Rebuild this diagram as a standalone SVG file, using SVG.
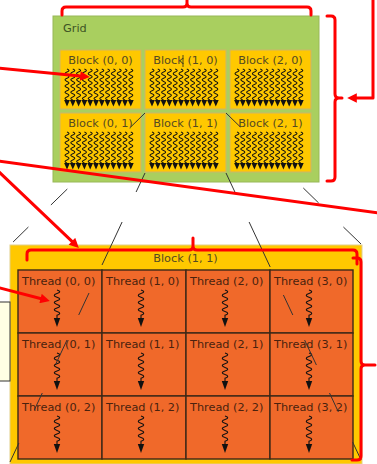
<svg xmlns="http://www.w3.org/2000/svg" xmlns:xlink="http://www.w3.org/1999/xlink" width="377" height="464" viewBox="0 0 377 464">
<style>
  .grid{fill:#a9cf5f;stroke:#98b858;stroke-width:1}
  .blk{fill:#ffc800;stroke:#cdb56a;stroke-width:1}
  .det{fill:#ffc800;stroke:#e2cf8a;stroke-width:1}
  .cell{fill:#f0692a;stroke:#3c2818;stroke-width:1.4}
  .t{font-family:"DejaVu Sans",sans-serif;font-size:11.3px}
  .bl{fill:#554a22}
  .th{fill:#4a220e}
  .gl{fill:#3d5424}
  .sq{fill:none;stroke:#111;stroke-width:1.1}
  .ah{fill:#111}
  .dl{stroke:#333;stroke-width:1;fill:none}
  .red{stroke:#ff0000;stroke-width:3;fill:none;stroke-linecap:round;stroke-linejoin:round}
</style>
<defs>
  <marker id="rarrow" viewBox="0 0 10 10" refX="5" refY="5" markerWidth="3.4" markerHeight="3.2" orient="auto" markerUnits="strokeWidth">
    <path d="M0,0 L10,5 L0,10 z" fill="#ff0000"/>
  </marker>
  <g id="bsq">
    <path class="sq" d="M0,0 q4,1.55 0,3.1 t0,3.1 t0,3.1 t0,3.1 t0,3.1 t0,3.1 t0,3.1 t0,3.1 t0,3.1 t0,3.1"/>
    <path class="ah" d="M-2.9,31 L2.9,31 L0,37.5 z"/>
  </g>
  <g id="bt">
    <use xlink:href="#bsq" x="7" y="19"/>
    <use xlink:href="#bsq" x="12.8" y="19"/>
    <use xlink:href="#bsq" x="18.6" y="19"/>
    <use xlink:href="#bsq" x="24.4" y="19"/>
    <use xlink:href="#bsq" x="30.2" y="19"/>
    <use xlink:href="#bsq" x="36" y="19"/>
    <use xlink:href="#bsq" x="41.8" y="19"/>
    <use xlink:href="#bsq" x="47.6" y="19"/>
    <use xlink:href="#bsq" x="53.4" y="19"/>
    <use xlink:href="#bsq" x="59.2" y="19"/>
    <use xlink:href="#bsq" x="65" y="19"/>
    <use xlink:href="#bsq" x="70.8" y="19"/>
  </g>
  <g id="tsq">
    <path class="sq" d="M39,20 q5.5,1.8 0,3.6 t0,3.6 t0,3.6 t0,3.6 t0,3.6 t0,3.6 t0,3.6 l0,3"/>
    <path class="ah" d="M35.8,48 L42.2,48 L39,57 z"/>
  </g>
</defs>

<rect width="377" height="464" fill="#ffffff"/>

<g id="grid">
  <rect class="grid" x="53" y="16" width="266" height="166"/>
  <text class="t gl" x="63" y="32">Grid</text>
</g>
<g id="block-0-0">
  <rect class="blk" x="60" y="50" width="81" height="59"/>
  <text class="t bl" x="100.5" y="64" text-anchor="middle">Block (0, 0)</text>
  <use xlink:href="#bt" x="60" y="50"/>
</g>
<g id="block-1-0">
  <rect class="blk" x="145" y="50" width="81" height="59"/>
  <text class="t bl" x="185.5" y="64" text-anchor="middle">Block (1, 0)</text>
  <line x1="183" y1="55" x2="183" y2="67" stroke="#222" stroke-width="0.8"/>
  <use xlink:href="#bt" x="145" y="50"/>
</g>
<g id="block-2-0">
  <rect class="blk" x="230" y="50" width="81" height="59"/>
  <text class="t bl" x="270.5" y="64" text-anchor="middle">Block (2, 0)</text>
  <use xlink:href="#bt" x="230" y="50"/>
</g>
<g id="block-0-1">
  <rect class="blk" x="60" y="113" width="81" height="59"/>
  <text class="t bl" x="100.5" y="127" text-anchor="middle">Block (0, 1)</text>
  <use xlink:href="#bt" x="60" y="113"/>
</g>
<g id="block-1-1">
  <rect class="blk" x="145" y="113" width="81" height="59"/>
  <text class="t bl" x="185.5" y="127" text-anchor="middle">Block (1, 1)</text>
  <use xlink:href="#bt" x="145" y="113"/>
</g>
<g id="block-2-1">
  <rect class="blk" x="230" y="113" width="81" height="59"/>
  <text class="t bl" x="270.5" y="127" text-anchor="middle">Block (2, 1)</text>
  <use xlink:href="#bt" x="230" y="113"/>
</g>

<g id="block-detail">
  <rect class="det" x="10" y="245" width="352" height="219"/>
  <text class="t bl" x="185.5" y="262" text-anchor="middle">Block (1, 1)</text>
</g>

<g id="thread-0-0"><rect class="cell" x="18" y="270" width="84" height="63"/><text class="t th" x="22" y="285">Thread (0, 0)</text><use xlink:href="#tsq" x="18" y="270"/></g>
<g id="thread-1-0"><rect class="cell" x="102" y="270" width="84" height="63"/><text class="t th" x="106" y="285">Thread (1, 0)</text><use xlink:href="#tsq" x="102" y="270"/></g>
<g id="thread-2-0"><rect class="cell" x="186" y="270" width="84" height="63"/><text class="t th" x="190" y="285">Thread (2, 0)</text><use xlink:href="#tsq" x="186" y="270"/></g>
<g id="thread-3-0"><rect class="cell" x="270" y="270" width="83" height="63"/><text class="t th" x="274" y="285">Thread (3, 0)</text><use xlink:href="#tsq" x="270" y="270"/></g>
<g id="thread-0-1"><rect class="cell" x="18" y="333" width="84" height="63"/><text class="t th" x="22" y="348">Thread (0, 1)</text><use xlink:href="#tsq" x="18" y="333"/></g>
<g id="thread-1-1"><rect class="cell" x="102" y="333" width="84" height="63"/><text class="t th" x="106" y="348">Thread (1, 1)</text><use xlink:href="#tsq" x="102" y="333"/></g>
<g id="thread-2-1"><rect class="cell" x="186" y="333" width="84" height="63"/><text class="t th" x="190" y="348">Thread (2, 1)</text><use xlink:href="#tsq" x="186" y="333"/></g>
<g id="thread-3-1"><rect class="cell" x="270" y="333" width="83" height="63"/><text class="t th" x="274" y="348">Thread (3, 1)</text><use xlink:href="#tsq" x="270" y="333"/></g>
<g id="thread-0-2"><rect class="cell" x="18" y="396" width="84" height="63"/><text class="t th" x="22" y="411">Thread (0, 2)</text><use xlink:href="#tsq" x="18" y="396"/></g>
<g id="thread-1-2"><rect class="cell" x="102" y="396" width="84" height="63"/><text class="t th" x="106" y="411">Thread (1, 2)</text><use xlink:href="#tsq" x="102" y="396"/></g>
<g id="thread-2-2"><rect class="cell" x="186" y="396" width="84" height="63"/><text class="t th" x="190" y="411">Thread (2, 2)</text><use xlink:href="#tsq" x="186" y="396"/></g>
<g id="thread-3-2"><rect class="cell" x="270" y="396" width="83" height="63"/><text class="t th" x="274" y="411">Thread (3, 2)</text><use xlink:href="#tsq" x="270" y="396"/></g>

<g id="side-box">
  <rect x="-1" y="302" width="11" height="79" fill="#ffffe4" stroke="#333" stroke-width="1"/>
</g>

<g id="connectors">
  <g id="zoom-lines">
    <line class="dl" x1="145" y1="113" x2="130.7" y2="127"/>
    <line class="dl" x1="67.3" y1="189" x2="50.9" y2="205"/>
    <line class="dl" x1="28.4" y1="227" x2="13.1" y2="242"/>
    <line class="dl" x1="145" y1="173" x2="136.1" y2="192"/>
    <line class="dl" x1="122.1" y1="222" x2="102" y2="265"/>
    <line class="dl" x1="89" y1="293" x2="78.7" y2="315"/>
    <line class="dl" x1="67" y1="340" x2="55.8" y2="364"/>
    <line class="dl" x1="42.3" y1="393" x2="34.3" y2="410"/>
    <line class="dl" x1="18.9" y1="443" x2="10" y2="462"/>
    <line class="dl" x1="226" y1="113" x2="240.4" y2="127"/>
    <line class="dl" x1="303.3" y1="188" x2="318.7" y2="203"/>
    <line class="dl" x1="343.4" y1="227" x2="361" y2="244"/>
    <line class="dl" x1="226" y1="173" x2="234.9" y2="192"/>
    <line class="dl" x1="249.1" y1="222" x2="270.2" y2="267"/>
    <line class="dl" x1="283.4" y1="295" x2="292.8" y2="315"/>
    <line class="dl" x1="304.6" y1="340" x2="316.4" y2="365"/>
    <line class="dl" x1="329.5" y1="393" x2="338.4" y2="412"/>
    <line class="dl" x1="352.6" y1="442" x2="361.1" y2="460"/>
  </g>
  <g id="annotations">
    <path class="red" d="M62,15 V11 Q62,7 66,7 H183 Q187,7 187,3 V-2 M187,3 Q187,7 191,7 H307 Q311,7 311,11 V15"/>
    <path class="red" d="M327,16 H331 Q335,16 335,20 V94 Q335,98 339,98 H342 M339,98 Q335,98 335,102 V177 Q335,181 331,181 H327"/>
    <path class="red" d="M373,-2 V98 H352" marker-end="url(#rarrow)"/>
    <line class="red" x1="-2" y1="68" x2="85" y2="76.5" marker-end="url(#rarrow)"/>
    <line class="red" x1="-2" y1="161" x2="379" y2="213"/>
    <line class="red" x1="-2" y1="171" x2="75.4" y2="244.6" marker-end="url(#rarrow)"/>
    <line class="red" x1="-2" y1="287.5" x2="45.2" y2="299.7" marker-end="url(#rarrow)"/>
    <path class="red" d="M27,260 V254 Q27,250 31,250 H189 Q193,250 193,246 V238 M193,246 Q193,250 197,250 H353 Q357,250 357,254 V264"/>
    <path class="red" d="M353,258 H357 Q361,258 361,262 V361 Q361,365 365,365 H375 M365,365 Q361,365 361,369 V456 Q361,460 357,460 H352"/>
  </g>
</g>
</svg>
